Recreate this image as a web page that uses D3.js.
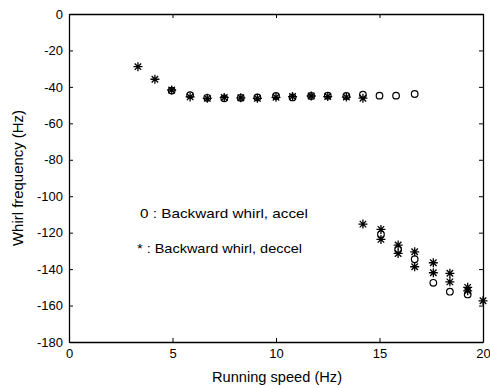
<!DOCTYPE html>
<html lang="en">
	<head>
		<meta charset="UTF-8" />
		<title>Whirl frequency</title>
		<style>
			body { margin: 0; background: #fff; }
			text { font-family: 'Liberation Sans', Arial, sans-serif; font-size: 13px; fill: #000; }
		</style>
	</head>
	<body>
		<svg id="svg" width="490" height="388"></svg>
		<script src="https://d3js.org/d3.v7.min.js"></script>
		<script>
			// accel (circles)
			const accelSpeed = [4.96, 5.85, 6.68, 7.5, 8.3, 9.1, 10.0, 10.8, 11.7, 12.5, 13.4, 14.2, 15.0, 15.8, 16.7,
				15.07, 15.9, 16.7, 17.6, 18.4, 19.26];
			const accelFreq = [-42, -44.5, -46, -46.3, -46, -45.8, -45, -45.8, -45, -44.8, -45, -44.3, -44.8, -44.8, -43.9,
				-120.9, -129.2, -134.6, -147.5, -152.4, -153.9];
			// deccel (stars)
			const deccelSpeed = [3.33, 4.15, 4.96, 5.85, 6.68, 7.5, 8.3, 9.1, 10.0, 10.8, 11.7, 12.5, 13.4, 14.2,
				14.2, 15.07, 15.07, 15.9, 15.9, 16.7, 16.7, 17.6, 17.6, 18.4, 18.4, 19.26, 19.26, 20.0];
			const deccelFreq = [-28.9, -35.8, -41.7, -45.5, -46.3, -45.8, -46, -46.3, -45.7, -45.3, -45, -45.3, -45.6, -46.2,
				-115.3, -118.2, -123.7, -126.8, -131.4, -130.5, -138.7, -136.5, -142, -142.3, -147, -150, -151.9, -157.4];
			const xTicks = [0, 5, 10, 15, 20];
			const yTicks = [0, -20, -40, -60, -80, -100, -120, -140, -160, -180];

			const mLeft = 69, mRight = 483, mTop = 14, mBottom = 342;
			const svg = d3.select('#svg');

			const x = d3.scaleLinear().domain([0, 20]).range([mLeft, mRight]);
			const y = d3.scaleLinear().domain([-180, 0]).range([mBottom, mTop]);

			// Axes with inward ticks
			svg.append('g')
				.attr('transform', `translate(0, ${mBottom})`)
				.call(d3.axisBottom(x).tickValues(xTicks).tickSizeInner(-4).tickSizeOuter(0).tickPadding(7));
			svg.append('g')
				.attr('transform', `translate(0, ${mTop})`)
				.call(d3.axisTop(x).tickValues(xTicks).tickSizeInner(-4).tickSizeOuter(0).tickFormat(''));
			svg.append('g')
				.attr('transform', `translate(${mLeft}, 0)`)
				.call(d3.axisLeft(y).tickValues(yTicks).tickSizeInner(-4).tickSizeOuter(0).tickPadding(6)
					.tickFormat(d => d === 0 ? '0' : '-' + Math.abs(d)));
			svg.append('g')
				.attr('transform', `translate(${mRight}, 0)`)
				.call(d3.axisRight(y).tickValues(yTicks).tickSizeInner(-4).tickSizeOuter(0).tickFormat(''));

			svg.selectAll('.domain').attr('stroke', '#000').attr('stroke-width', 1.3);
			svg.selectAll('.tick line').attr('stroke', '#000');
			svg.selectAll('.tick text').style('font-size', '13px').attr('fill', '#000');

			const accel = accelSpeed.map((s, i) => ({ s: s, f: accelFreq[i] }));
			const deccel = deccelSpeed.map((s, i) => ({ s: s, f: deccelFreq[i] }));

			svg.append('g').selectAll('circle')
				.data(accel)
				.join('circle')
				.attr('cx', d => x(d.s))
				.attr('cy', d => y(d.f))
				.attr('r', 3.3)
				.attr('fill', 'none')
				.attr('stroke', '#000')
				.attr('stroke-width', 1.2);

			// matlab style '*' marker: plus + cross
			const matlabStar = {
				draw(ctx, size) {
					const r = Math.sqrt(size) / 2;
					const d = r * 0.72;
					ctx.moveTo(0, -r); ctx.lineTo(0, r);
					ctx.moveTo(-r, 0); ctx.lineTo(r, 0);
					ctx.moveTo(-d, -d); ctx.lineTo(d, d);
					ctx.moveTo(-d, d); ctx.lineTo(d, -d);
				}
			};
			const star = d3.symbol().type(matlabStar).size(81);
			svg.append('g').selectAll('path')
				.data(deccel)
				.join('path')
				.attr('transform', d => `translate(${x(d.s)}, ${y(d.f)})`)
				.attr('d', star)
				.attr('fill', 'none')
				.attr('stroke', '#000')
				.attr('stroke-width', 1.3);

			// Labels
			svg.append('text')
				.attr('x', 212)
				.attr('y', 382)
				.attr('textLength', 130)
				.attr('lengthAdjust', 'spacingAndGlyphs')
				.style('font-size', '14px')
				.text('Running speed (Hz)');
			svg.append('text')
				.attr('transform', `translate(23, 246) rotate(-90)`)
				.attr('textLength', 136)
				.attr('lengthAdjust', 'spacingAndGlyphs')
				.style('font-size', '14px')
				.text('Whirl frequency (Hz)');

			svg.append('text').attr('x', 140).attr('y', 218)
				.attr('textLength', 168).attr('lengthAdjust', 'spacingAndGlyphs')
				.text('0 : Backward whirl, accel');
			svg.append('text').attr('x', 137).attr('y', 253)
				.attr('textLength', 165).attr('lengthAdjust', 'spacingAndGlyphs')
				.text('* : Backward whirl, deccel');
		</script>
	</body>
</html>
